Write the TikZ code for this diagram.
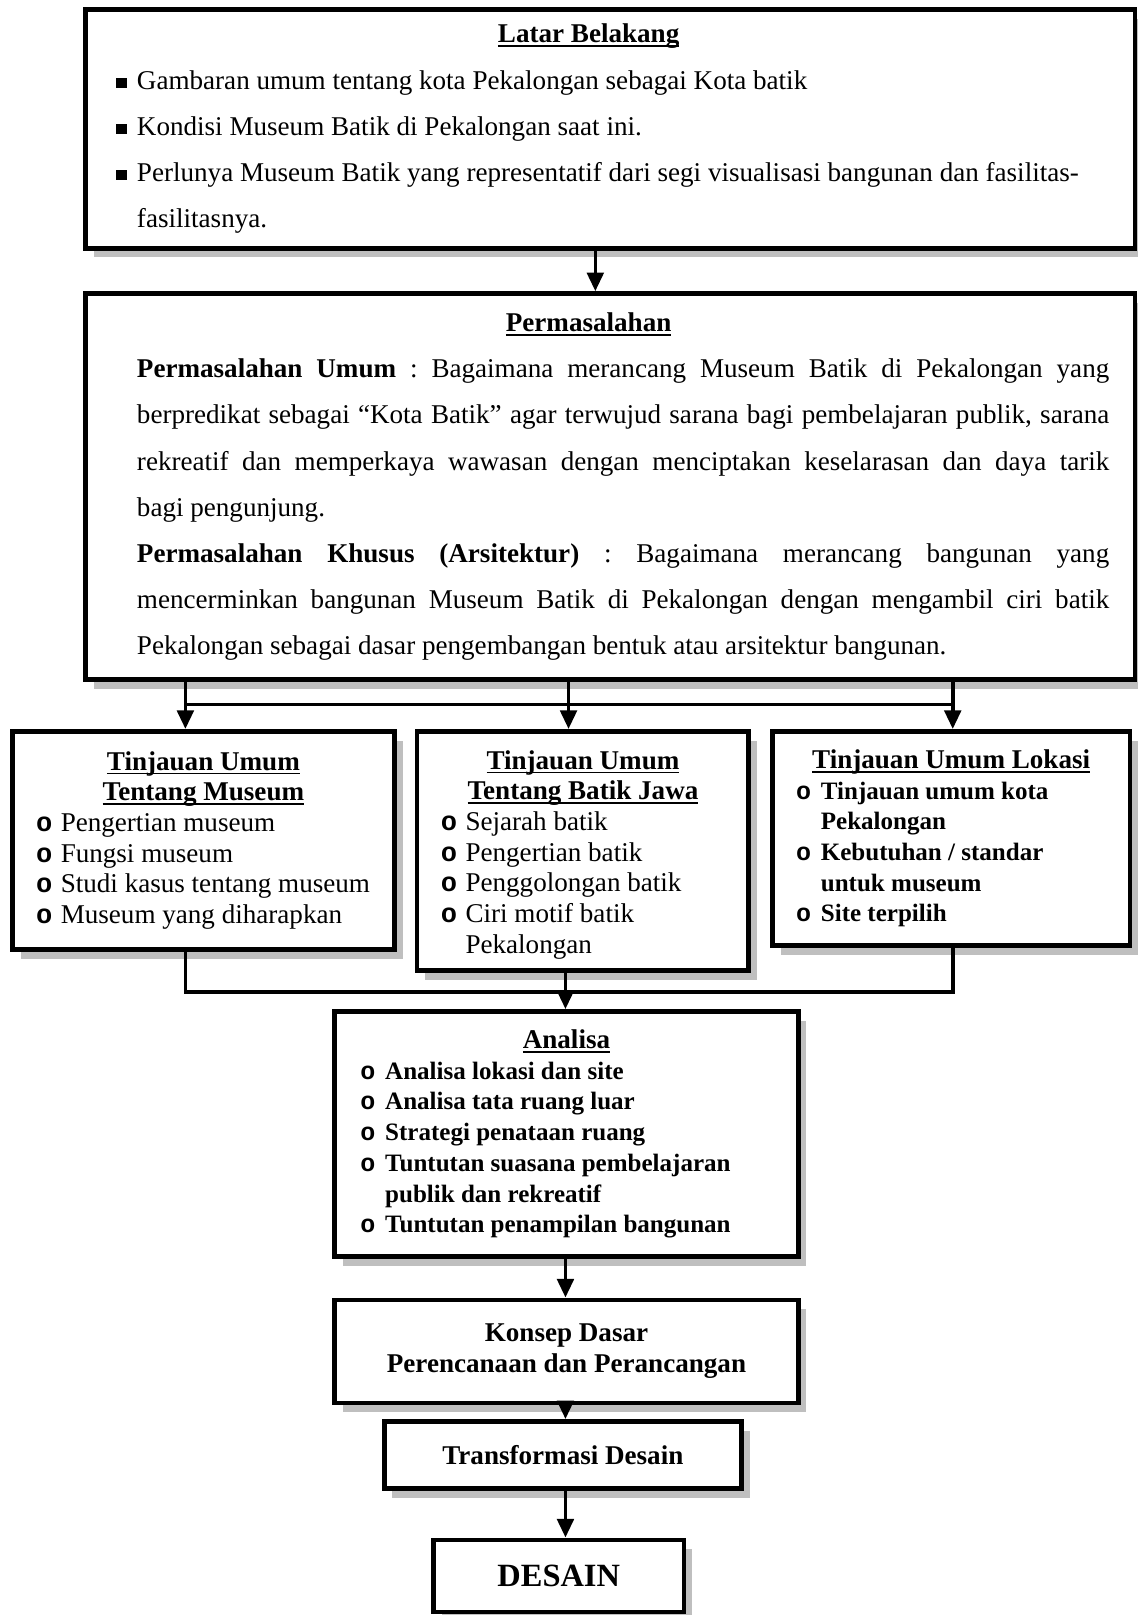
\documentclass[tikz,border=0pt]{standalone}
\usepackage{fontspec}
\setmainfont{Liberation Serif}
\setmonofont{Liberation Mono}
\usetikzlibrary{arrows.meta,shadows}

\newsavebox{\jbox}
\newcommand{\garis}[1]{\sbox{\jbox}{#1}\rlap{\rule[-4pt]{\wd\jbox}{1.6pt}}\usebox{\jbox}}
\newcommand{\rapat}{\spaceskip=0pt\xspaceskip=0pt\frenchspacing\relax}
\newcommand{\fbesar}{\fontsize{26.3}{44.8}\selectfont}
\newcommand{\fkecil}{\fontsize{26.3}{29.8}\selectfont}
\newcommand{\fisi}{\fontsize{24.3}{29.8}\selectfont\bfseries}
\newcommand{\judul}[1]{\makebox[\linewidth]{\garis{\textbf{#1}}}}
\newcommand{\kotak}[1]{\mbox{\makebox[20pt][l]{\rule[1pt]{10pt}{10pt}}#1}}
\newcommand{\bul}{\makebox[24pt][l]{\ttfamily\bfseries o}}
\newcommand{\itm}[1]{\mbox{\bul#1}}
\newcommand{\itmb}[1]{\mbox{\fisi\bul#1}}
\newcommand{\lanj}[1]{\mbox{\hspace*{24pt}#1}}
\newcommand{\lanjb}[1]{\mbox{\fisi\hspace*{24pt}#1}}
\newcommand{\jl}[1]{\hspace*{25pt}\makebox[944pt][s]{#1}}

\begin{document}
\begin{tikzpicture}[x=1pt,y=-1pt,
    box/.style={draw,line width=4.5pt,fill=white,align=left,font=\fkecil,
      execute at begin node=\rapat,
      drop shadow={shadow xshift=8pt,shadow yshift=-9pt,fill=black!25,opacity=1}},
    conn/.style={line width=3.5pt},
    arr/.style={conn,-{Triangle[width=16pt,length=18pt]}}]
  \useasboundingbox (0,0) rectangle (1104,1568);

  \node[box,font=\fbesar,minimum width=1019pt,minimum height=232pt,
    text width=959pt,inner xsep=30pt] (latar) at (592.5,125) {
    \makebox[\linewidth]{\garis{\textbf{Latar Belakang}}\hspace*{42pt}}\\
    \kotak{Gambaran umum tentang kota Pekalongan sebagai Kota batik}\\
    \kotak{Kondisi Museum Batik di Pekalongan saat ini.}\\
    \kotak{Perlunya Museum Batik yang representatif dari segi visualisasi bangunan dan fasilitas-}\\
    \hspace*{20pt}fasilitasnya.};

  \node[box,font=\fbesar,minimum width=1019pt,minimum height=375pt,
    text width=969pt,inner xsep=25pt] (masalah) at (592.5,472.5) {
    \makebox[\linewidth]{\garis{\textbf{Permasalahan}}\hspace*{42pt}}\\
    \jl{\textbf{Permasalahan Umum} : Bagaimana merancang Museum Batik di Pekalongan yang}\\
    \jl{berpredikat sebagai “Kota Batik” agar terwujud sarana bagi pembelajaran publik, sarana}\\
    \jl{rekreatif dan memperkaya wawasan dengan menciptakan keselarasan dan daya tarik}\\
    \hspace*{25pt}bagi pengunjung.\\
    \jl{\textbf{Permasalahan Khusus (Arsitektur)} : Bagaimana merancang bangunan yang}\\
    \jl{mencerminkan bangunan Museum Batik di Pekalongan dengan mengambil ciri batik}\\
    \hspace*{25pt}Pekalongan sebagai dasar pengembangan bentuk atau arsitektur bangunan.};

  \node[box,minimum width=371pt,minimum height=212pt,text width=325pt,
    inner xsep=23pt] (museum) at (197.5,816) {
    \judul{Tinjauan Umum}\\
    \judul{Tentang Museum}\\
    \itm{Pengertian museum}\\
    \itm{Fungsi museum}\\
    \itm{Studi kasus tentang museum}\\
    \itm{Museum yang diharapkan}};

  \node[box,minimum width=322pt,minimum height=232pt,text width=276pt,
    inner xsep=23pt] (batik) at (566,826) {
    \rule{0pt}{26pt}\judul{Tinjauan Umum}\\
    \judul{Tentang Batik Jawa}\\
    \itm{Sejarah batik}\\
    \itm{Pengertian batik}\\
    \itm{Penggolongan batik}\\
    \itm{Ciri motif batik}\\
    \lanj{Pekalongan}};

  \node[box,minimum width=347pt,minimum height=208pt,text width=301pt,
    inner xsep=23pt] (lokasi) at (923.5,814) {
    \judul{Tinjauan Umum Lokasi}\\
    \itmb{Tinjauan umum kota}\\
    \lanjb{Pekalongan}\\
    \itmb{Kebutuhan / standar}\\
    \lanjb{untuk museum}\\
    \itmb{Site terpilih}};

  \node[box,minimum width=450pt,minimum height=238pt,text width=400pt,
    inner xsep=25pt] (analisa) at (550,1101) {
    \judul{Analisa}\\
    \itmb{Analisa lokasi dan site}\\
    \itmb{Analisa tata ruang luar}\\
    \itmb{Strategi penataan ruang}\\
    \itmb{Tuntutan suasana pembelajaran}\\
    \lanjb{publik dan rekreatif}\\
    \itmb{Tuntutan penampilan bangunan}};

  \node[box,align=center,font=\fkecil\bfseries,minimum width=450pt,
    minimum height=100pt] (konsep) at (550,1312)
    {Konsep Dasar\\Perencanaan dan Perancangan};

  \node[box,align=center,font=\fkecil\bfseries,minimum width=347pt,
    minimum height=65pt] (trans) at (546.5,1412.5) {Transformasi Desain};

  \node[box,align=center,font=\fontsize{31.5}{36}\selectfont\bfseries,
    minimum width=243pt,minimum height=70pt] (desain) at (542.5,1530) {DESAIN};

  \draw[arr] ([xshift=-14.5pt]latar.south) -- ([xshift=-14.5pt]masalah.north);

  \coordinate (ki) at (180,684);
  \coordinate (te) at (552,684);
  \coordinate (ka) at (925,684);
  \draw[conn] (ki) -- (ka);
  \foreach \c/\n in {ki/museum,te/batik,ka/lokasi}
    \draw[arr] (\c |- masalah.south) -- (\c |- \n.north);

  \coordinate (gki) at (180,963);
  \coordinate (gka) at (925,963);
  \coordinate (tengah) at (549,963);
  \draw[conn] (gki |- museum.south) -- (gki) -- (gka) -- (gka |- lokasi.south);
  \foreach \a/\b in {batik/analisa,analisa/konsep,konsep/trans,trans/desain}
    \draw[arr] (tengah |- \a.south) -- (tengah |- \b.north);
\end{tikzpicture}
\end{document}
